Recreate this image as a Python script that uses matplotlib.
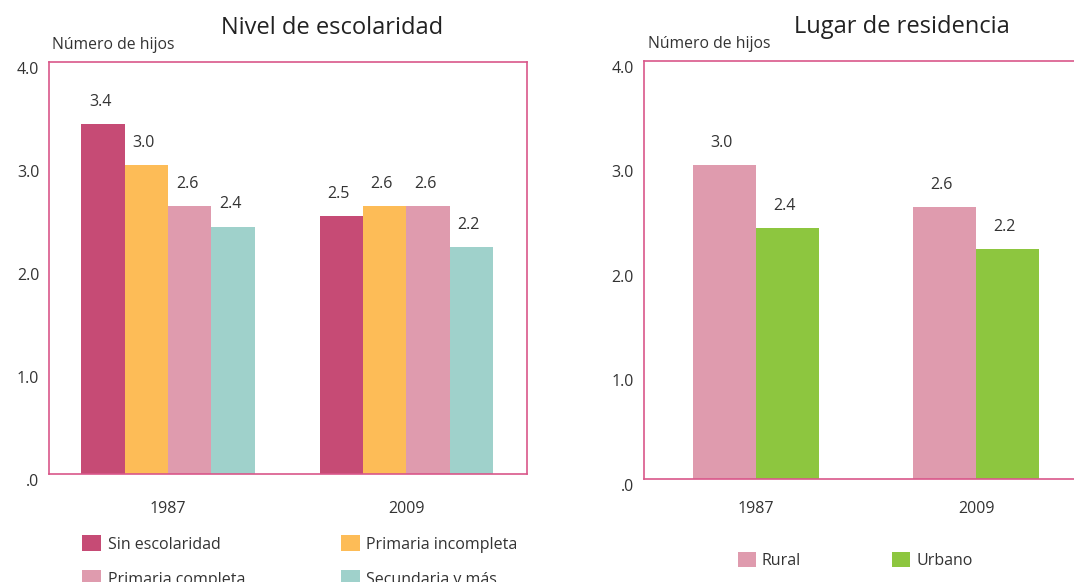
import numpy as np
import matplotlib.pyplot as plt

plt.rcParams['font.family'] = ['Open Sans', 'DejaVu Sans']

# Datos
anios = ["1987", "2009"]

escolaridad = ["Sin escolaridad", "Primaria incompleta", "Primaria completa", "Secundaria y más"]
hijos_escolaridad = [
    [3.4, 2.5],   # Sin escolaridad
    [3.0, 2.6],   # Primaria incompleta
    [2.6, 2.6],   # Primaria completa
    [2.4, 2.2],   # Secundaria y más
]

residencia = ["Rural", "Urbano"]
hijos_residencia = [
    [3.0, 2.6],   # Rural
    [2.4, 2.2],   # Urbano
]

colores_esc = ["#c64b75", "#fdbc57", "#df9bae", "#9fd1cb"]
colores_res = ["#df9bae", "#8dc63f"]

yticks = [0, 1, 2, 3, 4]
ytick_labels = [".0", "1.0", "2.0", "3.0", "4.0"]

BORDE = "#d9578a"
TEXTO = "#333333"
FS = 11.5


def panel(ax, series, nombres, colores, ancho, xlim, spines_visibles, xpad):
    x = np.arange(len(anios))
    n = len(series)
    for i, (vals, nombre, c) in enumerate(zip(series, nombres, colores)):
        pos = x + (i - (n - 1) / 2) * ancho
        barras = ax.bar(pos, vals, width=ancho, color=c, label=nombre, zorder=2)
        for b, v in zip(barras, vals):
            ax.annotate(f"{v:.1f}", (b.get_x() + b.get_width() / 2, v),
                        xytext=(-2, 16), textcoords="offset points",
                        ha="center", va="center", fontsize=FS, color=TEXTO)
    ax.set_xlim(*xlim)
    ax.set_ylim(0, 4)
    ax.set_xticks(x)
    ax.set_xticklabels(anios, fontsize=FS, color=TEXTO)
    ax.set_yticks(yticks)
    ax.set_yticklabels(ytick_labels, fontsize=FS, color=TEXTO)
    for lab in ax.get_yticklabels():
        lab.set_va("top")
    ax.tick_params(axis="both", length=0)
    ax.tick_params(axis="y", pad=7)
    ax.tick_params(axis="x", pad=xpad)
    for lado, sp in ax.spines.items():
        sp.set_color(BORDE)
        sp.set_linewidth(1.2)
        sp.set_visible(lado in spines_visibles)


fig = plt.figure(figsize=(10.74, 5.82), dpi=100)

ax1 = fig.add_axes([0.0456, 0.1861, 0.4448, 0.7074])
panel(ax1, hijos_escolaridad, escolaridad, colores_esc, 0.182, (-0.5, 1.505),
      ["left", "right", "top", "bottom"], xpad=20)

ax2 = fig.add_axes([0.5993, 0.1775, 0.4007, 0.7182])
panel(ax2, hijos_residencia, residencia, colores_res, 0.286, (-0.51, 1.445),
      ["left", "top", "bottom"], xpad=16)

# Títulos y etiqueta del eje
fig.text(332 / 1074, 1 - 28 / 582, "Nivel de escolaridad", ha="center", va="center",
         fontsize=17, color="#222222")
fig.text(902 / 1074, 1 - 27 / 582, "Lugar de residencia", ha="center", va="center",
         fontsize=17, color="#222222")
fig.text(52 / 1074, 1 - 45 / 582, "Número de hijos", ha="left", va="center",
         fontsize=11.3, color=TEXTO)
fig.text(648 / 1074, 1 - 44 / 582, "Número de hijos", ha="left", va="center",
         fontsize=11.3, color=TEXTO)

# Leyendas: dos filas, ordenadas por fila
h, l = ax1.get_legend_handles_labels()
orden = [0, 2, 1, 3]
ax1.legend([h[i] for i in orden], [l[i] for i in orden],
           loc="upper left", bbox_to_anchor=(82 / 1074, 1 - 535 / 582),
           bbox_transform=fig.transFigure, ncol=2, frameon=False, fontsize=FS,
           handlelength=1.2, handleheight=1.2, handletextpad=0.4,
           columnspacing=6.0, labelspacing=1.1, borderpad=0, borderaxespad=0,
           labelcolor=TEXTO)
ax2.legend(loc="upper left", bbox_to_anchor=(738 / 1074, 1 - 552 / 582),
           bbox_transform=fig.transFigure, ncol=2, frameon=False, fontsize=FS,
           handlelength=1.1, handleheight=1.1, handletextpad=0.4,
           columnspacing=5.7, borderpad=0, borderaxespad=0, labelcolor=TEXTO)

fig.savefig("out.png", dpi=100)
